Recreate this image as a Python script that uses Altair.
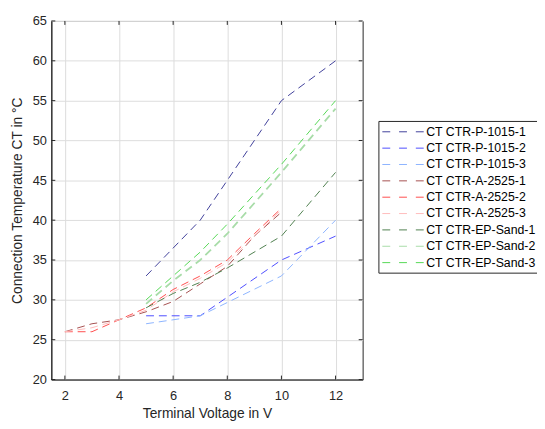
import altair as alt
import pandas as pd

series_names = [
    "CT CTR-P-1015-1", "CT CTR-P-1015-2", "CT CTR-P-1015-3",
    "CT CTR-A-2525-1", "CT CTR-A-2525-2", "CT CTR-A-2525-3",
    "CT CTR-EP-Sand-1", "CT CTR-EP-Sand-2", "CT CTR-EP-Sand-3",
]
colors = ["#40409a", "#4d4dff", "#8cb4ff",
          "#a65050", "#ff4d4d", "#ffbcbc",
          "#4f804f", "#a8dca8", "#55d855"]

p1_x = [5, 6, 7, 8, 10, 12]
p1_y = [33, 36.5, 40, 45, 55, 60]
p2_x = [5, 7, 10, 12]
p2_y = [28, 28, 35, 38]
p3_x = [5, 7, 10, 12]
p3_y = [27, 28, 33, 40]
a_x = [2, 3, 4, 5, 6, 7, 8, 9, 10]
a1_y = [26, 27, 27.5, 28.5, 29.8, 32, 34.2, 38, 41]
a2_y = [26, 26, 27.5, 29, 31.3, 33, 35, 38.3, 41.5]
a3_y = [26, 26.5, 27.5, 28.7, 31, 32.7, 34.7, 38, 41.3]
ep_x = [5, 6, 7, 8, 10, 12]
ep1_y = [29, 30.8, 32.2, 34, 38, 46]
ep2_y = [29.5, 32.4, 35, 38.3, 46, 54]
ep3_y = [30, 33, 36, 39.5, 47, 55]

x_ticks = [2, 4, 6, 8, 10, 12]
y_ticks = [20, 25, 30, 35, 40, 45, 50, 55, 60, 65]

pairs = [(p1_x, p1_y), (p2_x, p2_y), (p3_x, p3_y),
         (a_x, a1_y), (a_x, a2_y), (a_x, a3_y),
         (ep_x, ep1_y), (ep_x, ep2_y), (ep_x, ep3_y)]
rows = []
for name, (xs, ys) in zip(series_names, pairs):
    for i, (xv, yv) in enumerate(zip(xs, ys)):
        rows.append({"series": name, "V": xv, "T": yv, "order": i})
df = pd.DataFrame(rows)

W, H = 316, 364
FONT = "Liberation Sans"
TXT = "#262626"

xscale = alt.Scale(domain=[1.5, 13], nice=False, zero=False)
yscale = alt.Scale(domain=[20, 65], nice=False, zero=False)

lines = alt.Chart(df).mark_line(strokeDash=[8, 5], clip=True).encode(
    x=alt.X("V:Q", scale=xscale,
            axis=alt.Axis(values=x_ticks, title="Terminal Voltage in V",
                          ticks=False, labelPadding=10, titlePadding=5,
                          gridColor="#dcdcdc", domainColor=TXT)),
    y=alt.Y("T:Q", scale=yscale,
            axis=alt.Axis(values=y_ticks, title="Connection Temperature CT in °C",
                          ticks=False, labelPadding=5, titlePadding=8,
                          gridColor="#dcdcdc", domainColor=TXT)),
    color=alt.Color("series:N",
                    scale=alt.Scale(domain=series_names, range=colors),
                    sort=series_names,
                    legend=alt.Legend(title=None, orient="none",
                                      legendX=332, legendY=101.5)),
    strokeWidth=alt.condition(alt.datum.series == "CT CTR-EP-Sand-2",
                              alt.value(1.8), alt.value(1.0)),
    order="order:Q",
)

xt = pd.DataFrame({"V": x_ticks})
yt = pd.DataFrame({"T": y_ticks})
tick_x = alt.X("V:Q", scale=xscale)
tick_y = alt.Y("T:Q", scale=yscale)
tb = alt.Chart(xt).mark_rule(color=TXT, strokeWidth=1).encode(
    x=tick_x, y=alt.value(H), y2=alt.value(H - 4))
tt = alt.Chart(xt).mark_rule(color=TXT, strokeWidth=1).encode(
    x=tick_x, y=alt.value(0), y2=alt.value(4))
tl = alt.Chart(yt).mark_rule(color=TXT, strokeWidth=1).encode(
    y=tick_y, x=alt.value(0), x2=alt.value(4))
tr = alt.Chart(yt).mark_rule(color=TXT, strokeWidth=1).encode(
    y=tick_y, x=alt.value(W), x2=alt.value(W - 4))

chart = alt.layer(lines, tb, tt, tl, tr).properties(
    width=W, height=H,
    autosize=alt.AutoSizeParams(type="none"),
    padding={"left": 44, "top": 10, "right": 177, "bottom": 44},
).configure_view(
    stroke=TXT, strokeWidth=1
).configure_axis(
    labelFont=FONT, titleFont=FONT, labelFontSize=13, titleFontSize=14,
    labelColor=TXT, titleColor=TXT, titleFontWeight="normal",
    gridWidth=1,
).configure_legend(
    labelFont=FONT, labelFontSize=12.5, labelColor="#000000",
    strokeColor=TXT, fillColor="#ffffff", padding=3.5,
    symbolType="M-1,0H5", symbolSize=196, symbolStrokeWidth=1,
    symbolDash=[8, 9], labelOffset=30, rowPadding=2.6, labelLimit=300,
)

chart.save("out.html", embed_options={"renderer": "svg", "actions": False})
